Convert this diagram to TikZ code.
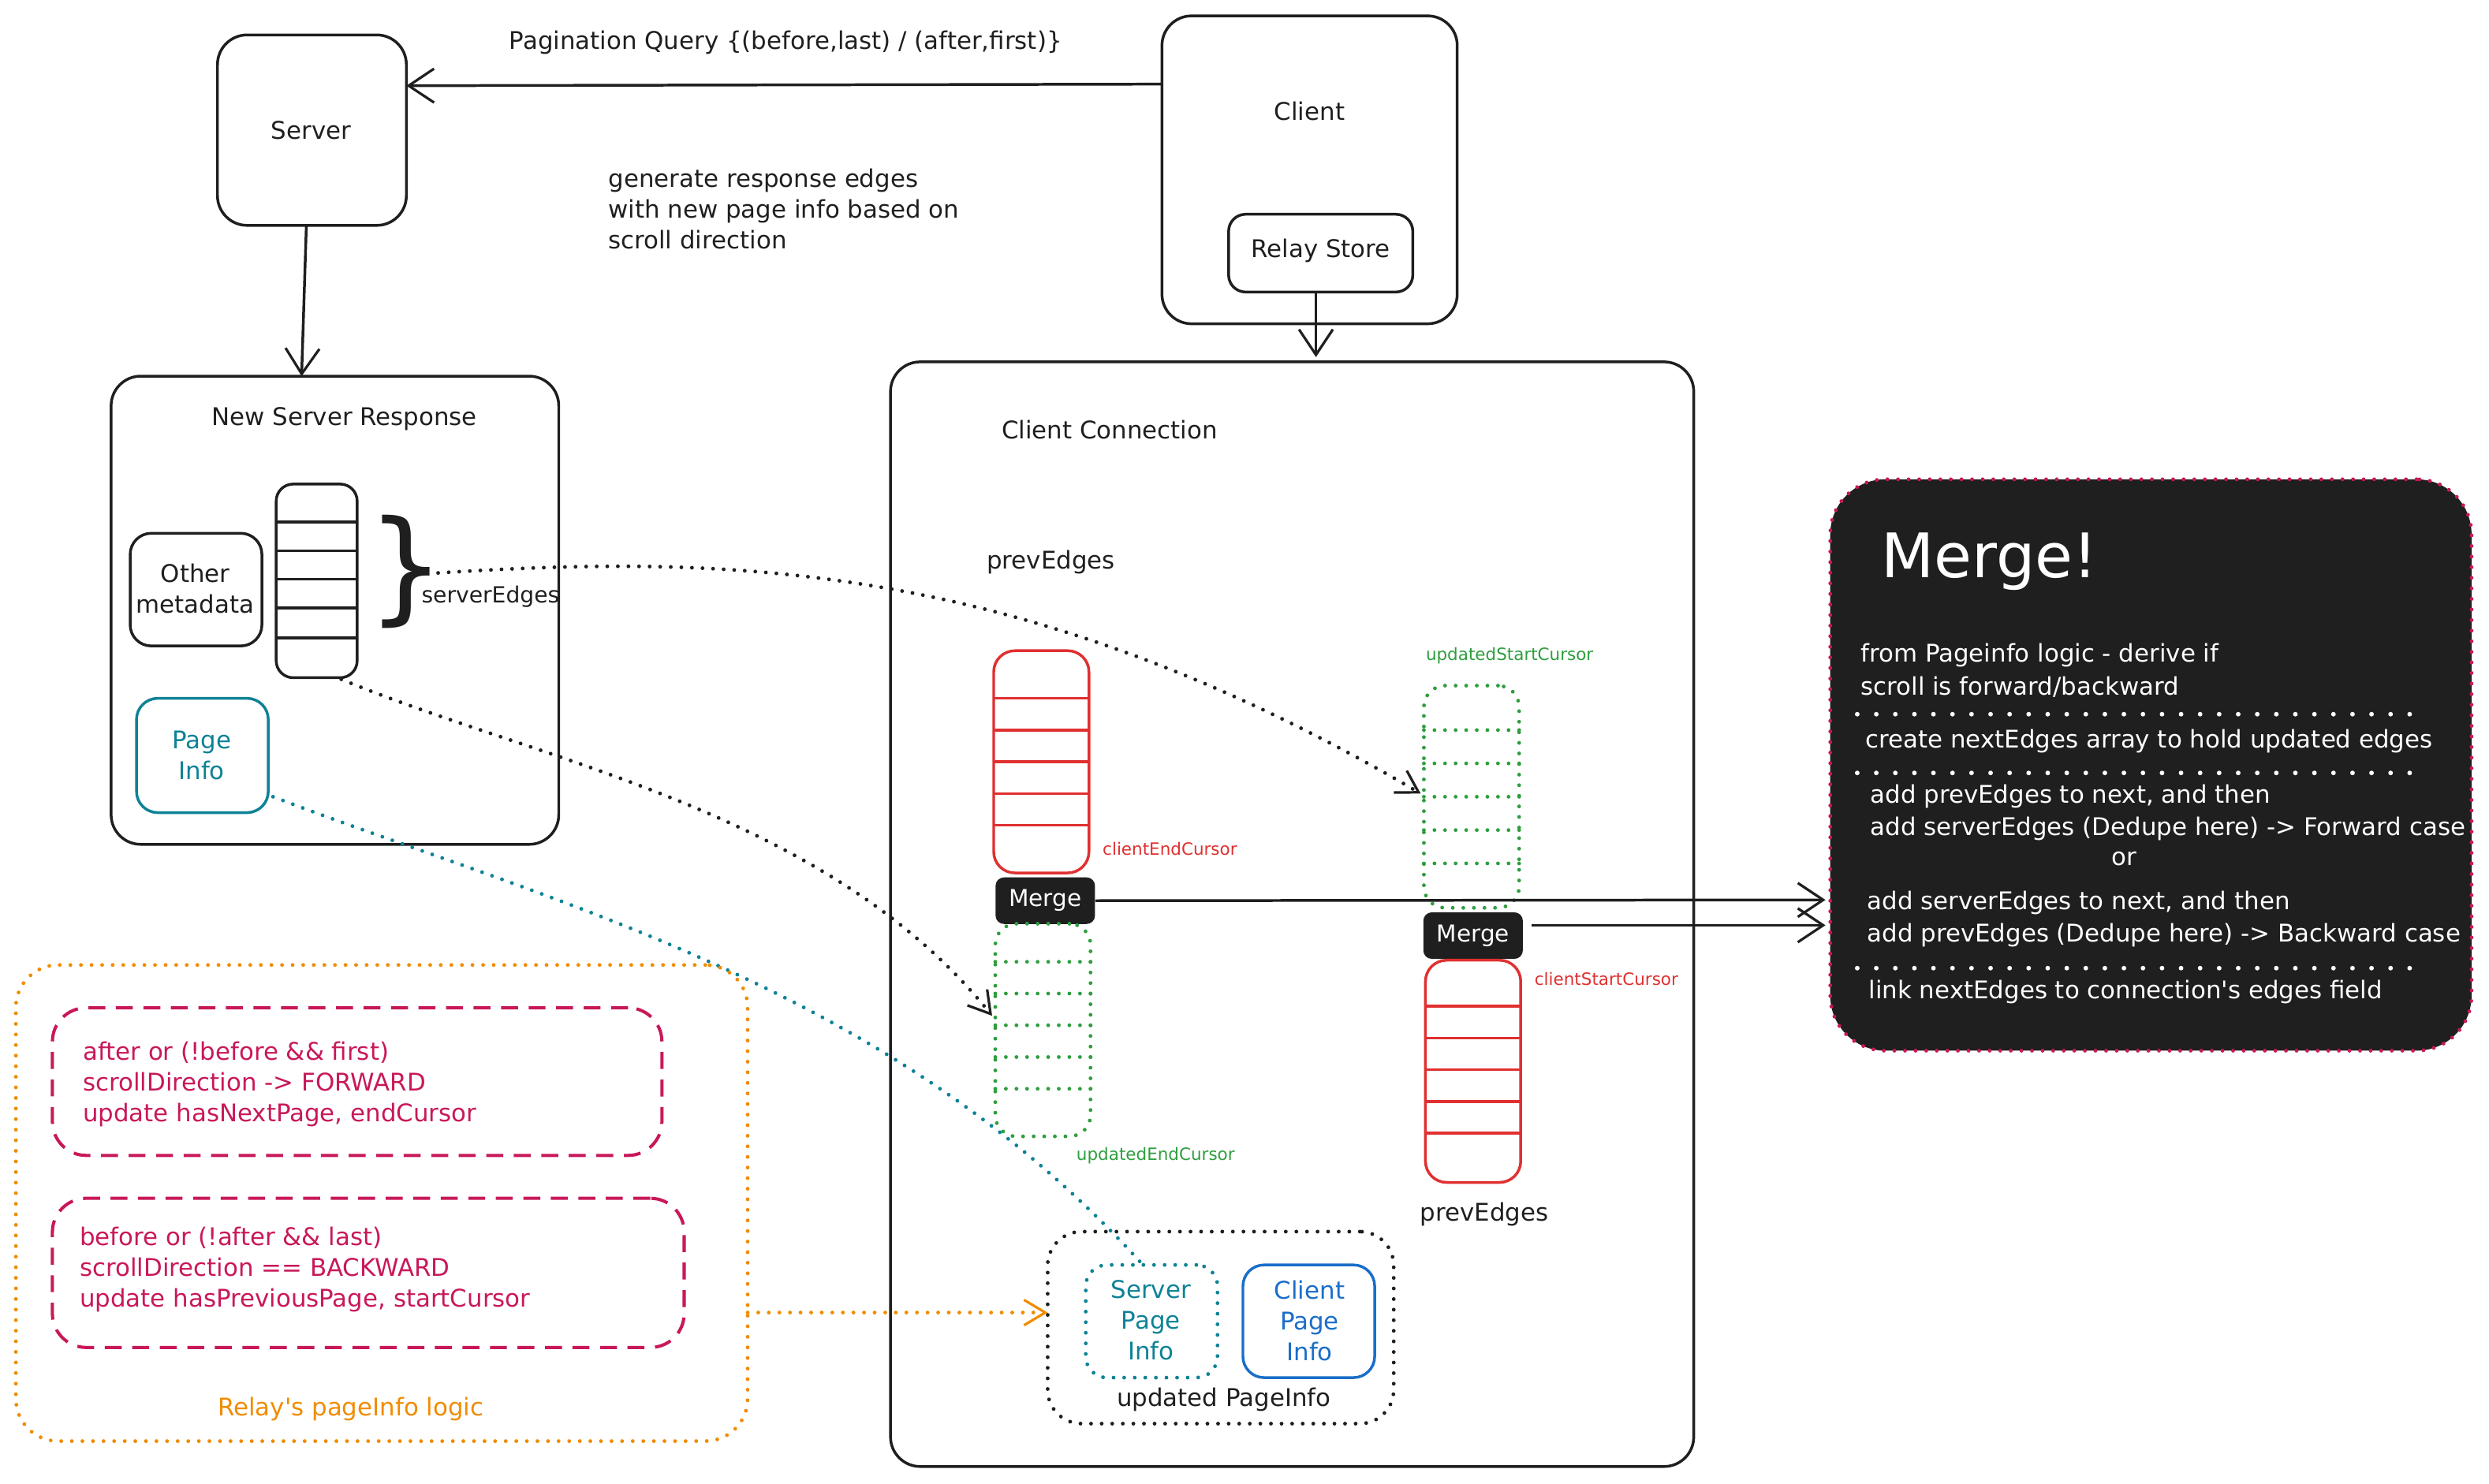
\documentclass[tikz,border=0pt]{standalone}
\usepackage{fontspec}
\setmainfont{DejaVu Sans}
\usetikzlibrary{arrows.meta,fit}
\definecolor{cred}{HTML}{E03030}
\definecolor{cgreen}{HTML}{2E9E3E}
\definecolor{cteal}{HTML}{0E8296}
\definecolor{cblue}{HTML}{1A6EC8}
\definecolor{ccrim}{HTML}{C8185A}
\definecolor{corange}{HTML}{F08C00}
\definecolor{cdark}{HTML}{1F1F1F}
\begin{document}
\begin{tikzpicture}[x=0.75pt,y=-0.75pt,
  txt/.style={font=\fontsize{11.5}{14.5}\selectfont,text=cdark},
  small/.style={font=\fontsize{8}{10}\selectfont},
  dots/.style={line cap=round,dash pattern=on 0pt off 5pt},
  box/.style={draw=cdark,line width=1.3pt,rounded corners=14pt,inner sep=0pt},
  sbox/.style={draw=cdark,line width=1.3pt,rounded corners=8pt,inner sep=0pt},
  barb/.style={-{Straight Barb[length=12pt,width=16pt,line width=1.2pt]}},
  dotarr/.style={line width=1.8pt,dots,-{Straight Barb[length=10pt,width=12pt,line width=1.2pt]}},
  merge/.style={fill=cdark,rounded corners=4pt,text=white,font=\fontsize{11}{13}\selectfont,minimum width=47pt,minimum height=22pt,inner sep=0pt},
  wt/.style={text=white,font=\fontsize{11.5}{14}\selectfont,anchor=west,inner sep=0pt}]
\useasboundingbox (0,0) rectangle (1568,935);
% Server / Client
\node[box,fit={(137,22)(256,142)}] (server) {};
\node[txt] (servert) at (196,82) {Server};
\node[box,fit={(732,10)(918,204)}] (client) {};
\node[txt] (clientt) at (825,70) {Client};
\node[sbox,fit={(774,135)(890,184)}] (relay) {};
\node[txt] (relayt) at (832,158) {Relay Store};
\coordinate (q1) at (732,53); \coordinate (q2) at (256,54);
\draw[line width=1.3pt,barb,cdark] (q1) -- (q2);
\node[txt] (qlabel) at (495,27) {Pagination Query \{(before,last) / (after,first)\}};
\node[txt,anchor=north west,align=left,inner sep=0pt] (gen) at (383,106) {generate response edges\\with new page info based on\\scroll direction};
% New server response
\node[box,fit={(70,237)(352,532)}] (nsr) {};
\node[txt] (nsrt) at (217,264) {New Server Response};
\coordinate (s1) at (193,142); \coordinate (s2) at (190,237);
\draw[line width=1.3pt,barb,cdark] (s1) -- (s2);
\coordinate (r1) at (829,184); \coordinate (r2) at (829,225);
\draw[line width=1.3pt,barb,cdark] (r1) -- (r2);
\node[sbox,rounded corners=10pt,fit={(82,336)(165,407)}] (other) {};
\node[txt,align=center] (othert) at (123,371) {Other\\metadata};
\node[sbox,fit={(174,305)(225,427)}] (sedges) {};
\foreach \y in {329,347,365,383,402} \draw[line width=1.3pt,cdark] (174,\y) -- (225,\y);
\node[font=\fontsize{58}{58}\selectfont,text=cdark] (brace) at (256,360) {\}};
\node[txt,font=\fontsize{10.5}{12}\selectfont] (sedt) at (309,376) {serverEdges};
\node[sbox,draw=cteal,rounded corners=10pt,fit={(86,440)(169,512)}] (pinfo) {};
\node[txt,text=cteal,align=center] (pinfot) at (127,476) {Page\\Info};
% Client Connection
\node[box,fit={(561,228)(1067,924)}] (cc) {};
\node[txt] (cct) at (699,271) {Client Connection};
\node[txt] (prev1) at (662,354) {prevEdges};
\node[sbox,draw=cred,rounded corners=10pt,fit={(626,410)(686,550)}] (red1) {};
\foreach \y in {440,460,480,500,520} \draw[line width=1.3pt,cred] (626,\y) -- (686,\y);
\node[small,text=cred] (cec) at (737,535) {clientEndCursor};
\node[merge] (merge1) at (658.5,567.5) {Merge};
\node[sbox,draw=cgreen,dots,line width=1.8pt,rounded corners=10pt,fit={(627,582)(687,716)}] (green1) {};
\foreach \y in {606,626,646,666,686} \draw[line width=1.8pt,dots,cgreen] (627,\y) -- (687,\y);
\node[small,text=cgreen] (uec) at (728,728) {updatedEndCursor};
\node[sbox,draw=cgreen,dots,line width=1.8pt,rounded corners=10pt,fit={(897,432)(957,572)}] (green2) {};
\foreach \y in {460,481,502,523,544} \draw[line width=1.8pt,dots,cgreen] (897,\y) -- (957,\y);
\node[small,text=cgreen] (usc) at (951,413) {updatedStartCursor};
\node[merge] (merge2) at (928,589.5) {Merge};
\node[sbox,draw=cred,rounded corners=10pt,fit={(898,605)(958,745)}] (red2) {};
\foreach \y in {634,654,674,694,714} \draw[line width=1.3pt,cred] (898,\y) -- (958,\y);
\node[small,text=cred] (csc) at (1012,617) {clientStartCursor};
\node[txt] (prev2) at (935,765) {prevEdges};
% Merge! box
\node[draw=ccrim,dots,line width=1.8pt,fill=cdark,rounded corners=26pt,fit={(1153,302)(1557,662)},inner sep=0pt] (mbox) {};
\coordinate (m1e) at (1150,567); \coordinate (m2s) at (965,583); \coordinate (m2e) at (1150,583);
\draw[line width=1.3pt,barb,cdark] (merge1.east) -- (m1e);
\draw[line width=1.3pt,barb,cdark] (m2s) -- (m2e);
\begin{scope}
\clip[rounded corners=26pt] (1153,302) rectangle (1556,662);
\node[wt,font=\fontsize{29}{32}\selectfont] (mtitle) at (1185,354) {Merge!};
\node[wt] (l1) at (1172,413) {from Pageinfo logic - derive if};
\node[wt] (l2) at (1172,433) {scroll is forward/backward};
\node[wt] (l3) at (1175,467) {create nextEdges array to hold updated edges};
\node[wt] (l4) at (1178,502) {add prevEdges to next, and then};
\node[wt] (l5) at (1178,522) {add serverEdges (Dedupe here) -> Forward case};
\node[wt,anchor=center] (l6) at (1338,541) {or};
\node[wt] (l7) at (1176,569) {add serverEdges to next, and then};
\node[wt] (l8) at (1176,589) {add prevEdges (Dedupe here) -> Backward case};
\node[wt] (l9) at (1177,625) {link nextEdges to connection\textquotesingle s edges field};
\foreach \y in {450,487,610} \draw[white,line width=2.2pt,line cap=round,dash pattern=on 0pt off 9pt] (1170,\y) -- (1522,\y);
\end{scope}
% dotted connectors
\coordinate (b1) at (276,361);
\coordinate (g2) at (895,500);
\draw[dotarr,cdark] (b1) .. controls (450,350) and (640,350) .. (g2);
\coordinate (se) at (215,428);
\coordinate (g1) at (625,640);
\draw[dotarr,cdark] (se) .. controls (340,480) and (520,510) .. (g1);
% updated PageInfo
\node[sbox,dots,line width=1.8pt,rounded corners=16pt,fit={(660,776)(878,897)}] (upi) {};
\node[txt] (upit) at (771,882) {updated PageInfo};
\node[sbox,draw=cteal,dots,line width=1.8pt,rounded corners=10pt,fit={(684,797)(767,868)}] (spi) {};
\node[txt,text=cteal,align=center] (spit) at (725,832) {Server\\Page\\Info};
\node[sbox,draw=cblue,rounded corners=10pt,fit={(783,797)(866,868)}] (cpi) {};
\node[txt,text=cblue,align=center] (cpit) at (825,832) {Client\\Page\\Info};
\coordinate (p1) at (172,502); \coordinate (p2) at (720,797);
\draw[cteal,line width=1.8pt,dots] (p1) .. controls (350,570) and (560,620) .. (p2);
% Relay logic
\node[draw=corange,dots,line width=1.8pt,rounded corners=20pt,fit={(10,608)(471,908)},inner sep=0pt] (rl) {};
\node[txt,text=corange] (rlt) at (221,888) {Relay\textquotesingle s pageInfo logic};
\node[draw=ccrim,dash pattern=on 8pt off 5pt,line width=1.5pt,rounded corners=16pt,fit={(33,635)(417,728)},inner sep=0pt] (fw) {};
\node[txt,text=ccrim,anchor=north west,align=left,inner sep=0pt] (fwt) at (52,656) {after or (!before \&\& first)\\scrollDirection -> FORWARD\\update hasNextPage, endCursor};
\node[draw=ccrim,dash pattern=on 8pt off 5pt,line width=1.5pt,rounded corners=16pt,fit={(33,755)(431,849)},inner sep=0pt] (bw) {};
\node[txt,text=ccrim,anchor=north west,align=left,inner sep=0pt] (bwt) at (50,773) {before or (!after \&\& last)\\scrollDirection == BACKWARD\\update hasPreviousPage, startCursor};
\coordinate (o1) at (471,827); \coordinate (o2) at (660,827);
\draw[dotarr,corange] (o1) -- (o2);
\end{tikzpicture}
\end{document}
